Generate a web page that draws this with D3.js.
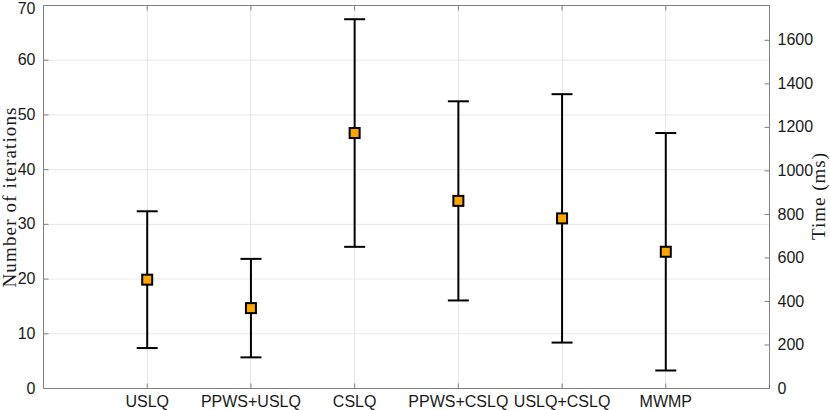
<!DOCTYPE html>
<html>
<head>
<meta charset="utf-8">
<script src="https://cdn.jsdelivr.net/npm/d3@7"></script>
<style>
  html, body { margin: 0; padding: 0; background: #fff; }
  svg { display: block; }
</style>
</head>
<body>
<script>
// ---- data ----
const categories = ["USLQ", "PPWS+USLQ", "CSLQ", "PPWS+CSLQ", "USLQ+CSLQ", "MWMP"];
const means = [19.8, 14.6, 46.6, 34.2, 31.0, 24.9];
const stds  = [12.5, 9.0, 20.8, 18.2, 22.7, 21.7];
const leftTicks = [0, 10, 20, 30, 40, 50, 60, 70];
const rightTicks = [0, 200, 400, 600, 800, 1000, 1200, 1400, 1600];
const leftLabel = "Number of iterations";
const rightLabel = "Time (ms)";

// ---- layout ----
const W = 830, H = 410;
const L = 43, R = 769, T = 5, B = 388;
const axisColor = "#808080";
const gridColor = "#e8e8e8";
const textColor = "#1a1a1a";
const sansFont = "'Liberation Sans', Arial, sans-serif";
const serifFont = "'Liberation Serif', 'DejaVu Serif', serif";

const svg = d3.select("body").append("svg").attr("width", W).attr("height", H);

const x = d3.scaleLinear().domain([0, categories.length + 1]).range([L, R]);
const yL = d3.scaleLinear().domain([0, 70]).range([B, T]);
const yR = d3.scaleLinear().domain([0, 1760]).range([B, T]);

// grid
const grid = svg.append("g");
grid.selectAll("line.h").data(leftTicks.filter(t => t > 0 && t < 70)).enter().append("line")
  .attr("x1", L).attr("x2", R).attr("y1", d => yL(d) + 0.5).attr("y2", d => yL(d) + 0.5)
  .attr("stroke", gridColor).attr("stroke-width", 1);
grid.selectAll("line.v").data(categories).enter().append("line")
  .attr("x1", (d, i) => Math.round(x(i + 1)) + 0.5).attr("x2", (d, i) => Math.round(x(i + 1)) + 0.5)
  .attr("y1", T).attr("y2", B)
  .attr("stroke", gridColor).attr("stroke-width", 1);

// axes
const tickLen = 5;
const leftAxis = d3.axisLeft(yL).tickValues(leftTicks).tickSizeInner(-tickLen).tickSizeOuter(0).tickPadding(tickLen + 3);
const gL = svg.append("g").attr("transform", `translate(${L + 0.5},0)`).call(leftAxis);
const rightAxis = d3.axisRight(yR).tickValues(rightTicks).tickFormat(d3.format("d"))
  .tickSizeInner(-tickLen).tickSizeOuter(0).tickPadding(tickLen + 3);
const gR = svg.append("g").attr("transform", `translate(${R + 0.5},0)`).call(rightAxis);
const bottomAxis = d3.axisBottom(x).tickValues(categories.map((c, i) => i + 1))
  .tickFormat((d) => categories[d - 1]).tickSizeInner(-tickLen).tickSizeOuter(0).tickPadding(7);
const gB = svg.append("g").attr("transform", `translate(0,${B + 0.5})`).call(bottomAxis);
const topAxis = d3.axisTop(x).tickValues(categories.map((c, i) => i + 1))
  .tickFormat("").tickSizeInner(-tickLen).tickSizeOuter(0);
const gT = svg.append("g").attr("transform", `translate(0,${T + 0.5})`).call(topAxis);

[gL, gR, gB, gT].forEach(g => {
  g.select(".domain").attr("stroke", axisColor).attr("stroke-width", 1);
  g.selectAll(".tick line").attr("stroke", axisColor).attr("stroke-width", 1);
  g.selectAll(".tick text").attr("fill", textColor).style("font-family", sansFont).style("font-size", "16px");
});
// keep the topmost left tick label inside the picture
gL.selectAll(".tick text").filter(d => d === 70).attr("dy", "0.5em");
gL.select(".domain").attr("d", `M0,${T}V${B + 0.5}`);
gR.select(".domain").attr("d", `M0,${T}V${B + 0.5}`);
gB.select(".domain").attr("d", `M${L},0H${R + 1}`);
gT.select(".domain").attr("d", `M${L},0H${R + 1}`);

// axis labels
svg.append("text")
  .attr("transform", `translate(15.5,${(T + B) / 2 + 1}) rotate(-90)`)
  .attr("text-anchor", "middle")
  .attr("fill", textColor)
  .attr("textLength", 180).attr("lengthAdjust", "spacing")
  .style("font-family", serifFont).style("font-size", "19px")
  .text(leftLabel);
svg.append("text")
  .attr("transform", `translate(825,${(T + B) / 2}) rotate(-90)`)
  .attr("text-anchor", "middle")
  .attr("fill", textColor)
  .attr("textLength", 87).attr("lengthAdjust", "spacing")
  .style("font-family", serifFont).style("font-size", "19px")
  .text(rightLabel);

// error bars
const capHalf = 10.5;
const eb = svg.append("g").attr("stroke", "#000").attr("stroke-width", 2).attr("fill", "none");
categories.forEach((c, i) => {
  const cx = x(i + 1) + 0.5;
  const lo = yL(means[i] - stds[i]);
  const hi = yL(means[i] + stds[i]);
  eb.append("line").attr("x1", cx).attr("x2", cx).attr("y1", hi).attr("y2", lo);
  eb.append("line").attr("x1", cx - capHalf).attr("x2", cx + capHalf).attr("y1", hi).attr("y2", hi);
  eb.append("line").attr("x1", cx - capHalf).attr("x2", cx + capHalf).attr("y1", lo).attr("y2", lo);
});

// markers
const ms = 10;
svg.append("g").selectAll("rect").data(means).enter().append("rect")
  .attr("x", (d, i) => x(i + 1) + 0.5 - ms / 2)
  .attr("y", d => yL(d) - ms / 2)
  .attr("width", ms).attr("height", ms)
  .attr("fill", "#FFA500")
  .attr("stroke", "#000").attr("stroke-width", 2);
</script>
</body>
</html>
